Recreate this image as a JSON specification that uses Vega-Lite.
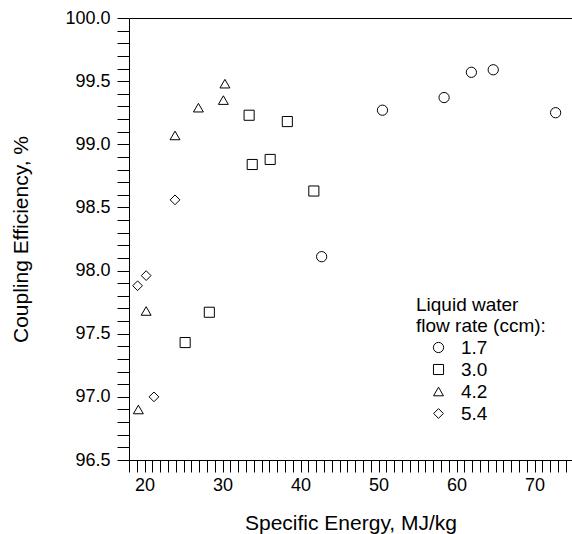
{
  "$schema": "https://vega.github.io/schema/vega-lite/v6.json",
  "width": 443,
  "height": 442,
  "autosize": {"type": "none"},
  "padding": {"left": 129, "top": 18, "right": 0, "bottom": 74},
  "config": {
    "view": {"stroke": null},
    "font": "Liberation Sans",
    "axis": {
      "domainColor": "black", "tickColor": "black", "labelColor": "black", "titleColor": "black",
      "grid": false, "labelFont": "Liberation Sans", "titleFont": "Liberation Sans",
      "titleFontWeight": "normal", "labelFontSize": 18, "titleFontSize": 21, "domainWidth": 1, "tickWidth": 1
    },
    "legend": {
      "titleFont": "Liberation Sans", "labelFont": "Liberation Sans",
      "titleFontWeight": "normal", "titleFontSize": 19, "labelFontSize": 19,
      "titleColor": "black", "labelColor": "black"
    }
  },
  "data": {
    "values": [
      {"energy": 42.7, "efficiency": 98.11, "rate": "1.7"},
      {"energy": 50.5, "efficiency": 99.27, "rate": "1.7"},
      {"energy": 58.4, "efficiency": 99.37, "rate": "1.7"},
      {"energy": 61.9, "efficiency": 99.57, "rate": "1.7"},
      {"energy": 64.7, "efficiency": 99.59, "rate": "1.7"},
      {"energy": 72.7, "efficiency": 99.25, "rate": "1.7"},
      {"energy": 25.2, "efficiency": 97.43, "rate": "3.0"},
      {"energy": 28.3, "efficiency": 97.67, "rate": "3.0"},
      {"energy": 33.4, "efficiency": 99.23, "rate": "3.0"},
      {"energy": 33.8, "efficiency": 98.84, "rate": "3.0"},
      {"energy": 36.1, "efficiency": 98.88, "rate": "3.0"},
      {"energy": 38.3, "efficiency": 99.18, "rate": "3.0"},
      {"energy": 41.7, "efficiency": 98.63, "rate": "3.0"},
      {"energy": 19.2, "efficiency": 96.90, "rate": "4.2"},
      {"energy": 20.2, "efficiency": 97.68, "rate": "4.2"},
      {"energy": 23.9, "efficiency": 99.07, "rate": "4.2"},
      {"energy": 26.9, "efficiency": 99.29, "rate": "4.2"},
      {"energy": 30.1, "efficiency": 99.35, "rate": "4.2"},
      {"energy": 30.3, "efficiency": 99.48, "rate": "4.2"},
      {"energy": 19.1, "efficiency": 97.88, "rate": "5.4"},
      {"energy": 20.2, "efficiency": 97.96, "rate": "5.4"},
      {"energy": 21.2, "efficiency": 97.00, "rate": "5.4"},
      {"energy": 23.9, "efficiency": 98.56, "rate": "5.4"}
    ]
  },
  "layer": [
    {
      "mark": {"type": "point", "filled": false, "color": "black", "strokeWidth": 1, "opacity": 1},
      "encoding": {
        "x": {
          "field": "energy", "type": "quantitative",
          "scale": {"domain": [18, 74.8], "nice": false, "zero": false},
          "axis": {"orient": "bottom",
                   "values": [18,19,20,21,22,23,24,25,26,27,28,29,30,31,32,33,34,35,36,37,38,39,40,41,42,43,44,45,46,47,48,49,50,51,52,53,54,55,56,57,58,59,60,61,62,63,64,65,66,67,68,69,70,71,72,73,74],
                   "tickSize": 12,
                   "encode": {"ticks": {"update": {"y2": {"signal": "datum.value % 10 === 0 ? 12 : 6"}}}},
                   "labelExpr": "datum.value % 10 === 0 ? datum.label : ''",
                   "labelPadding": 4, "labelOverlap": false,
                   "title": "Specific Energy, MJ/kg", "titlePadding": 18}
        },
        "y": {
          "field": "efficiency", "type": "quantitative",
          "scale": {"domain": [96.5, 100], "nice": false, "zero": false},
          "axis": {"orient": "left",
                   "values": [96.5,96.6,96.7,96.8,96.9,97.0,97.1,97.2,97.3,97.4,97.5,97.6,97.7,97.8,97.9,98.0,98.1,98.2,98.3,98.4,98.5,98.6,98.7,98.8,98.9,99.0,99.1,99.2,99.3,99.4,99.5,99.6,99.7,99.8,99.9,100],
                   "format": ".1f",
                   "tickSize": 12,
                   "encode": {"ticks": {"update": {"x2": {"signal": "abs(datum.value * 2 - round(datum.value * 2)) < 0.001 ? -12 : -6"}}}},
                   "labelExpr": "abs(datum.value * 2 - round(datum.value * 2)) < 0.001 ? datum.label : ''",
                   "labelPadding": 7, "labelOverlap": false,
                   "title": "Coupling Efficiency, %", "titlePadding": 33}
        },
        "shape": {
          "field": "rate", "type": "nominal",
          "scale": {"domain": ["1.7", "3.0", "4.2", "5.4"], "range": ["circle", "square", "triangle-up", "diamond"]},
          "legend": {
            "orient": "none", "legendX": 287, "legendY": 278,
            "title": ["Liquid water", "flow rate (ccm):"], "titleLineHeight": 21, "titlePadding": 2,
            "symbolSize": 64, "symbolStrokeColor": "black", "symbolFillColor": "transparent",
            "symbolStrokeWidth": 1, "symbolOffset": 13, "labelOffset": 13, "rowPadding": 2, "padding": 0,
            "encode": {"symbols": {"update": {"size": {"value": 64}, "stroke": {"value": "black"}, "fill": {"value": "transparent"}}}}
          }
        },
        "size": {
          "field": "rate", "type": "nominal",
          "scale": {"domain": ["1.7", "3.0", "4.2", "5.4"], "range": [105, 95, 135, 105]}
        }
      }
    },
    {
      "mark": {"type": "point", "opacity": 0},
      "encoding": {
        "x": {
          "field": "energy", "type": "quantitative",
          "scale": {"domain": [18, 74.8], "nice": false, "zero": false},
          "axis": {"orient": "top", "ticks": false, "labels": false, "domain": true, "title": null}
        },
        "y": {
          "field": "efficiency", "type": "quantitative",
          "scale": {"domain": [96.5, 100], "nice": false, "zero": false},
          "axis": null
        }
      }
    }
  ],
  "resolve": {"axis": {"x": "independent", "y": "independent"}}
}
